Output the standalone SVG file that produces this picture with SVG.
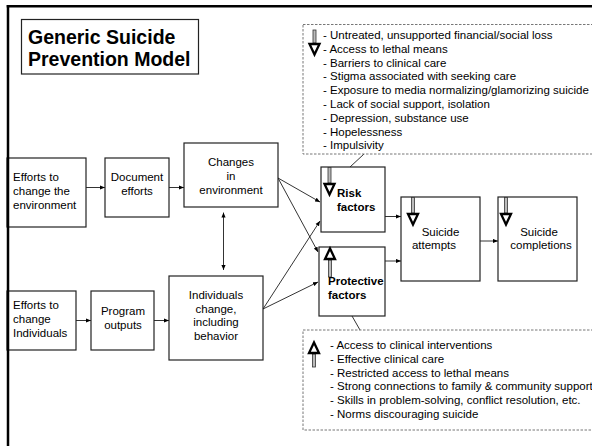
<svg xmlns="http://www.w3.org/2000/svg" width="592" height="446" viewBox="0 0 592 446">
  <defs>
    <style>
      text{font-family:"Liberation Sans",Arial,Helvetica,sans-serif;font-size:11.5px;fill:#000}
      .b{font-weight:bold}
      .mid{text-anchor:middle}
      .title{font-size:19.5px;font-weight:bold}
      .box{fill:#fff;stroke:#222;stroke-width:1.2}
      .list{fill:#fff;stroke:#777;stroke-width:1;stroke-dasharray:2.5 1.5}
      .c{stroke:#000;stroke-width:0.8;fill:none}
      .ca{stroke:#000;stroke-width:0.8;fill:none;marker-end:url(#ah)}
      .head{fill:#fff;stroke:#000;stroke-width:2.3;stroke-linejoin:miter}
      .shaft{fill:#bbb;stroke:#333;stroke-width:0.8}
      .frame{stroke:#000;stroke-width:2.5;fill:none}
    </style>
    <marker id="ah" viewBox="0 0 6 6" refX="6" refY="3" markerWidth="5" markerHeight="5" markerUnits="userSpaceOnUse" orient="auto-start-reverse">
      <path d="M0,0.5 L6,3 L0,5.5 z" fill="#000"/>
    </marker>
    <!-- hollow block-arrow head, pointing down, apex below origin -->
    <path id="dn" class="head" d="M-5,1 L5,1 L0,11.5 z"/>
  </defs>

  <rect width="592" height="446" fill="#fff"/>

  <!-- title -->
  <g id="title">
    <rect class="box" x="21.5" y="19.5" width="177" height="54.5"/>
    <text class="title" x="28" y="43.5">Generic Suicide</text>
    <text class="title" x="28" y="65.5">Prevention Model</text>
  </g>

  <!-- connectors -->
  <g id="connectors">
    <line class="ca" x1="86" y1="187.5" x2="105" y2="187.5"/>
    <line class="ca" x1="169" y1="187.5" x2="184" y2="187.5"/>
    <line class="ca" x1="76" y1="320.5" x2="91" y2="320.5"/>
    <line class="ca" x1="154" y1="320.5" x2="169" y2="320.5"/>
    <line class="ca" x1="223.5" y1="212.5" x2="223.5" y2="270" marker-start="url(#ah)"/>
    <line class="ca" x1="278" y1="178" x2="320" y2="202"/>
    <line class="ca" x1="278" y1="178" x2="318" y2="252"/>
    <line class="ca" x1="263" y1="309" x2="320" y2="221"/>
    <line class="ca" x1="263" y1="309" x2="318" y2="282"/>
    <line class="ca" x1="385" y1="216.5" x2="401" y2="216.5"/>
    <line class="ca" x1="385" y1="261" x2="401" y2="261"/>
    <line class="ca" x1="480" y1="241" x2="498" y2="241"/>
    <line class="c" x1="364" y1="154" x2="350" y2="167"/>
    <line class="c" x1="352" y1="316" x2="360" y2="330"/>
  </g>

  <!-- risk factor list -->
  <g id="risk-list">
    <rect class="list" x="303" y="24.5" width="300" height="129.5"/>
    <rect class="shaft" x="313" y="30" width="3" height="13"/>
    <use href="#dn" transform="translate(314.5,43)"/>
    <text x="323" y="39">- Untreated, unsupported financial/social loss</text>
    <text x="323" y="52.8">- Access to lethal means</text>
    <text x="323" y="66.6">- Barriers to clinical care</text>
    <text x="323" y="80.4">- Stigma associated with seeking care</text>
    <text x="323" y="94.2">- Exposure to media normalizing/glamorizing suicide</text>
    <text x="323" y="108">- Lack of social support, isolation</text>
    <text x="323" y="121.8">- Depression, substance use</text>
    <text x="323" y="135.6">- Hopelessness</text>
    <text x="323" y="149.4">- Impulsivity</text>
  </g>

  <!-- protective factor list -->
  <g id="protective-list">
    <rect class="list" x="303" y="330" width="300" height="100"/>
    <rect class="shaft" x="312.5" y="354" width="3" height="13"/>
    <use href="#dn" transform="translate(314,354) scale(1,-1)"/>
    <text x="330" y="349">- Access to clinical interventions</text>
    <text x="330" y="362.8">- Effective clinical care</text>
    <text x="330" y="376.6">- Restricted access to lethal means</text>
    <text x="330" y="390.4">- Strong connections to family &amp; community support</text>
    <text x="330" y="404.2">- Skills in problem-solving, conflict resolution, etc.</text>
    <text x="330" y="418">- Norms discouraging suicide</text>
  </g>

  <!-- environment path -->
  <g id="env-efforts">
    <rect class="box" x="7" y="158" width="79" height="69"/>
    <text x="13" y="181">Efforts to</text>
    <text x="13" y="195">change the</text>
    <text x="13" y="208.5">environment</text>
  </g>
  <g id="document-efforts">
    <rect class="box" x="105" y="158" width="64" height="59"/>
    <text class="mid" x="137" y="181">Document</text>
    <text class="mid" x="137" y="195">efforts</text>
  </g>
  <g id="env-changes">
    <rect class="box" x="184" y="143" width="94" height="64"/>
    <text class="mid" x="231" y="166">Changes</text>
    <text class="mid" x="231" y="180">in</text>
    <text class="mid" x="231" y="194">environment</text>
  </g>

  <!-- individual path -->
  <g id="ind-efforts">
    <rect class="box" x="7" y="291" width="69" height="59"/>
    <text x="13" y="309">Efforts to</text>
    <text x="13" y="323">change</text>
    <text x="13" y="337">Individuals</text>
  </g>
  <g id="program-outputs">
    <rect class="box" x="91" y="291" width="63" height="59"/>
    <text class="mid" x="123" y="315">Program</text>
    <text class="mid" x="123" y="328.5">outputs</text>
  </g>
  <g id="ind-change">
    <rect class="box" x="169" y="276" width="94" height="84"/>
    <text class="mid" x="216" y="299">Individuals</text>
    <text class="mid" x="216" y="312.5">change,</text>
    <text class="mid" x="216" y="326">including</text>
    <text class="mid" x="216" y="340">behavior</text>
  </g>

  <!-- factors and outcomes -->
  <g id="risk-factors">
    <rect class="box" x="321" y="167" width="64" height="65"/>
    <rect class="shaft" x="328" y="167.5" width="3" height="15.5"/>
    <use href="#dn" transform="translate(329.5,183)"/>
    <text class="b" x="337" y="197">Risk</text>
    <text class="b" x="337" y="211">factors</text>
  </g>
  <g id="protective-factors">
    <rect class="box" x="319" y="247" width="66" height="69"/>
    <rect class="shaft" x="328.5" y="260" width="3" height="17"/>
    <use href="#dn" transform="translate(330,260) scale(1,-1)"/>
    <text class="b" x="328" y="285">Protective</text>
    <text class="b" x="328" y="298.5">factors</text>
  </g>
  <g id="suicide-attempts">
    <rect class="box" x="401" y="197" width="79" height="84"/>
    <rect class="shaft" x="411.5" y="197.5" width="3" height="15.5"/>
    <use href="#dn" transform="translate(413,213)"/>
    <text class="mid" x="440.5" y="235.5">Suicide</text>
    <text class="mid" x="434" y="249">attempts</text>
  </g>
  <g id="suicide-completions">
    <rect class="box" x="498" y="197" width="79" height="84"/>
    <rect class="shaft" x="504.5" y="197.5" width="3" height="15.5"/>
    <use href="#dn" transform="translate(506,213)"/>
    <text class="mid" x="539" y="235.5">Suicide</text>
    <text class="mid" x="541" y="249">completions</text>
  </g>

  <!-- slide frame -->
  <g id="frame">
    <line class="frame" x1="6.7" y1="6.2" x2="592" y2="6.2"/>
    <line class="frame" x1="8" y1="5" x2="8" y2="446"/>
  </g>
</svg>
